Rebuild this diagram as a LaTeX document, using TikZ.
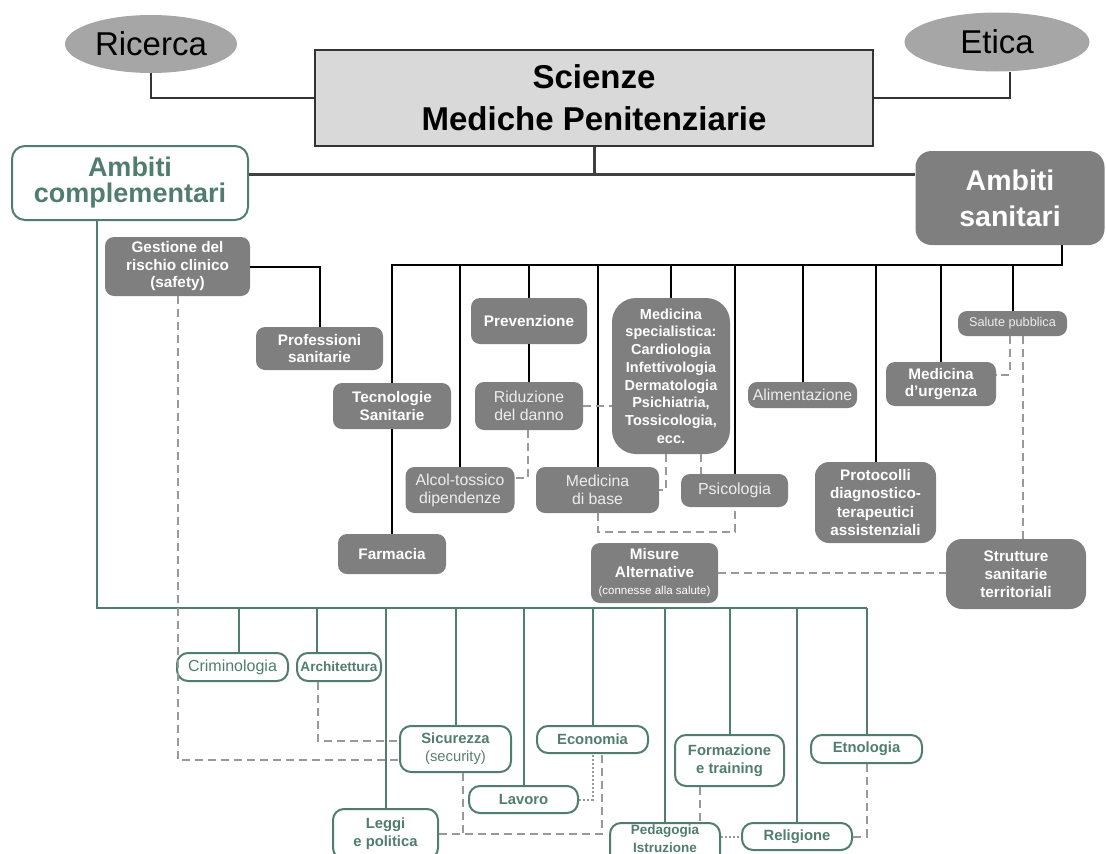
\documentclass[tikz,border=0pt]{standalone}
\usepackage{fontspec}
\setmainfont{Liberation Sans}
\usepackage{tikz}
\usetikzlibrary{shapes}
\usetikzlibrary{positioning}
\definecolor{boxgray}{HTML}{7F7F7F}
\definecolor{ovalgray}{HTML}{A6A6A6}
\definecolor{titlegray}{HTML}{D9D9D9}
\definecolor{cgreen}{HTML}{507D6E}
\definecolor{dashgray}{HTML}{999999}
\newcommand{\fz}[2]{\fontsize{#1}{#2}\selectfont}

\begin{document}
\begin{tikzpicture}[x=1pt,y=1pt,
    sz/.style 2 args={minimum width=#1pt, minimum height=#2pt},
    oval/.style={ellipse, fill=ovalgray, font=\fz{33}{36}},
    title/.style={rectangle, fill=titlegray, draw=black!80, line width=1.3pt, font=\bfseries\fz{33}{42}, align=center},
    cbox/.style={rectangle, rounded corners=13pt, draw=cgreen, line width=2pt, fill=white, text=cgreen, font=\bfseries\fz{27}{26}, align=center},
    sbox/.style={rectangle, rounded corners=16pt, fill=boxgray, text=white, font=\bfseries\fz{28.5}{36}, align=center},
    dbox/.style={rectangle, rounded corners=9pt, fill=boxgray, text=white, font=\bfseries\fz{15.3}{17.5}, align=center},
    lbox/.style={dbox, text=white!93!black, font=\fz{15.8}{18}},
    gbox/.style={rectangle, rounded corners=11pt, draw=cgreen, line width=2pt, fill=white, text=cgreen, font=\bfseries\fz{14.8}{18}, align=center},
    sline/.style={draw=black, line width=2pt},
    tline/.style={draw=black!80, line width=1.3pt},
    gline/.style={draw=cgreen, line width=2pt},
    dline/.style={draw=dashgray, line width=2pt, dash pattern=on 8pt off 5pt}]
  \tikzstyle{every node}+=[inner sep=0pt]
  \useasboundingbox (0,0) rectangle (1106,-854);

  \node[oval, sz={172}{58}] (ric) at (151,-44) {Ricerca};
  \node[oval, sz={185}{59}] (eti) at (997,-42) {Etica};
  \node[title, sz={558}{96}] (sci) at (594,-98) {Scienze\\Mediche Penitenziarie};
  \node[cbox, sz={236}{74}] (compl) at (130,-183) {Ambiti\\complementari};
  \node[sbox, sz={189}{94}] (sanit) at (1010,-198) {Ambiti\\sanitari};

  \node[dbox, sz={145}{59}] (gest) at (177.5,-266.5) {Gestione del\\rischio clinico\\(safety)};
  \node[dbox, sz={127}{43}] (prof) at (319.5,-348.5) {Professioni\\sanitarie};
  \node[dbox, sz={118}{46}] (tec) at (392,-406) {Tecnologie\\Sanitarie};
  \node[dbox, sz={108}{40}] (farm) at (392,-554) {Farmacia};
  \node[dbox, sz={116}{46}] (prev) at (529,-321) {Prevenzione};
  \node[lbox, sz={108}{48}] (rid) at (529,-406) {Riduzione\\del danno};
  \node[lbox, sz={109}{46}] (alc) at (460,-490) {Alcol-tossico\\dipendenze};
  \node[lbox, sz={123}{46}] (mbase) at (597.5,-490) {Medicina\\di base};
  \node[dbox, rounded corners=24pt, font=\bfseries\fz{14.5}{17.7}, sz={118}{156}] (mspec) at (671,-376)
    {Medicina\\specialistica:\\Cardiologia\\Infettivologia\\Dermatologia\\Psichiatria,\\Tossicologia,\\ecc.};
  \node[lbox, font=\fz{16}{18}, sz={107}{33}] (psi) at (734.5,-490.5) {Psicologia};
  \node[lbox, sz={109}{26}] (alim) at (802.5,-395) {Alimentazione};
  \node[dbox, rounded corners=14pt, font=\bfseries\fz{15.3}{18.3}, sz={121}{81}] (prot) at (875.5,-502.5)
    {Protocolli\\diagnostico-\\terapeutici\\assistenziali};
  \node[dbox, sz={110}{44}] (urg) at (941,-384) {Medicina\\d’urgenza};
  \node[lbox, font=\fz{12.7}{15}, sz={109}{25}] (sal) at (1012.5,-323.5) {Salute pubblica};
  \node[dbox, sz={127}{60}] (mis) at (654.5,-573) {Misure\\Alternative\\{\mdseries\fz{11.5}{14}(connesse alla salute)}};
  \node[dbox, rounded corners=16pt, font=\bfseries\fz{15.3}{18}, sz={140}{70}] (strut) at (1016,-574)
    {Strutture\\sanitarie\\territoriali};

  \node[gbox, font=\fz{16}{18}, sz={111}{28}] (crim) at (232.5,-667) {Criminologia};
  \node[gbox, font=\bfseries\fz{13.6}{15}, sz={84}{28}] (arch) at (339,-667) {Architettura};
  \node[gbox, sz={105}{50}] (leggi) at (385.5,-834) {Leggi\\e politica};
  \node[gbox, sz={111}{46}] (sicur) at (455.5,-749) {Sicurezza\\{\mdseries\color{cgreen!75!gray}(security)}};
  \node[gbox, sz={109}{27}] (lav) at (523.5,-799.5) {Lavoro};
  \node[gbox, sz={111}{27}] (econ) at (592.5,-739.5) {Economia};
  \node[gbox, font=\bfseries\fz{13.5}{18}, sz={110}{54}] (ped) at (665,-850) {Pedagogia\\Istruzione\\\strut};
  \node[gbox, sz={109}{51}] (form) at (729.5,-760.5) {Formazione\\e training};
  \node[gbox, sz={110}{27}] (relig) at (797,-836.5) {Religione};
  \node[gbox, sz={111}{28}] (etno) at (866.5,-749) {Etnologia};

  \draw[tline] (ric.south) |- (sci.west);
  \draw[tline] ([xshift=13pt]eti.south) |- (sci.east);
  \coordinate (hub) at (594,-174);
  \draw[line width=3pt, draw=black!75] (sci.south) -- (hub);
  \draw[line width=3pt, draw=black!75] (compl.east |- hub) -- (sanit.west |- hub);

  \coordinate (sbus) at (1062,-265);
  \draw[sline] (sanit.south -| sbus) -- (sbus) -- (tec.north |- sbus) -- (tec.north);
  \foreach \n in {alc,prev,mbase,mspec,psi,alim,prot,urg,sal}
    \draw[sline] (\n.north |- sbus) -- (\n.north);
  \draw[sline] (tec) -- (farm);
  \draw[sline] (prev) -- (rid);
  \draw[sline] (gest.east) -| (prof.north);

  \coordinate (cbus) at (97,-608);
  \draw[gline] (compl.south -| cbus) -- (cbus) -- (etno.north |- cbus);
  \draw[gline] ([xshift=6pt]crim.north |- cbus) -- ([xshift=6pt]crim.north);
  \draw[gline] ([xshift=-22pt]arch.north |- cbus) -- ([xshift=-22pt]arch.north);
  \foreach \n in {leggi,sicur,lav,econ,ped,form,relig,etno}
    \draw[gline] (\n.north |- cbus) -- (\n.north);

  \draw[dline] (rid) -- (mspec.west |- rid);
  \draw[dline] ([xshift=-1pt]rid.south) |- ([yshift=12pt]alc.east);
  \draw[dline] ([xshift=-5pt]mspec.south) |- (mbase.east);
  \draw[dline] ([xshift=30pt]mspec.south) -- ([xshift=30pt]mspec.south |- psi.north);
  \draw[dline] (mbase.south) -- ++(0,-19) -| (psi.south);
  \draw[dline] (mis.east) -- (strut.west |- mis.east);
  \draw[dline] ([xshift=-3pt]sal.south) |- ([yshift=9pt]urg.east);
  \draw[dline] ([xshift=10pt]sal.south) -- ([xshift=10pt]sal.south |- strut.north);
  \draw[dline] (gest.south) |- ([yshift=-11pt]sicur.west);
  \draw[dline] ([xshift=-21pt]arch.south) |- ([yshift=8pt]sicur.west);
  \draw[dline] (leggi.east) -| ([xshift=9pt]econ.south);
  \draw[dline] ([xshift=7pt]sicur.south) -- ([xshift=7pt]sicur.south |- leggi.east);
  \draw[dline, dotted] (lav.east) -| (econ.south);
  \draw[dline] ([xshift=-30pt]form.south) -- ([xshift=-30pt]form.south |- ped.north);
  \draw[dline, dotted] (relig.west -| ped.east) -- (relig.west);
  \draw[dline] (etno.south) |- (relig.east);
\end{tikzpicture}
\end{document}
